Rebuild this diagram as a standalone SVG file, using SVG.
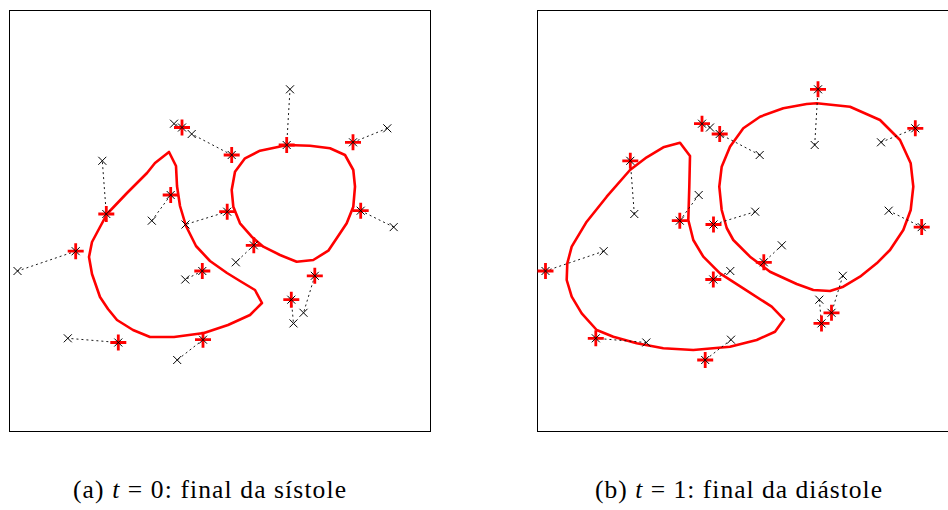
<svg xmlns="http://www.w3.org/2000/svg" xmlns:xlink="http://www.w3.org/1999/xlink" width="948" height="510" viewBox="0 0 948 510">
<style>
.frame{fill:none;stroke:#000;stroke-width:1}
.curve{fill:none;stroke:#f00;stroke-width:2.6;stroke-linejoin:round}
.link{stroke:#000;stroke-width:0.9;stroke-dasharray:2 3;fill:none}
.cap{font-family:"Liberation Serif","DejaVu Serif",serif;font-size:25.5px;fill:#000}
</style>
<defs>
<g id="mx"><path d="M-4,-4L4,4M-4,4L4,-4" stroke="#000" stroke-width="1" fill="none"/></g>
<g id="mp"><path d="M-8,0H8M0,-8V8" stroke="#f00" stroke-width="2.8" fill="none"/><use href="#mx" xlink:href="#mx"/></g>
</defs>
<rect width="948" height="510" fill="#fff"/>

<g id="panel-a">
<rect class="frame" x="9.5" y="10.5" width="421" height="421"/>
<g id="curves-a">
<polygon class="curve" points="169,152 176,166 177,186 180,206 186,226 196,246 210,261 227,273 240,281 255,290 262,303 250,315 228,325 204,333 174,337 150,337 133,330 117,320 108,309 100,297 92,274 89,257 92,242 100,227 107,214 127,193 147,173 155,163"/>
<polygon class="curve" points="287,145 310,145.7 330,148.3 345,155 353.3,170 355,186.7 353.3,206.7 346.7,223.3 336.7,238.3 328.3,250.7 313.3,260 296.7,261.7 280,255 263.3,246.7 251.7,236.7 240,223.3 233.3,206.7 231.7,190 235,171.7 245,158.3 260,150.7 276.7,147.3"/>
</g>
<g id="links-a">
<path class="link" d="M182,127.5L174,123.7M231.7,155L191.7,134M106.3,214L102.3,160.8M170.7,195L151.8,220.7M227.2,211.7L185.5,224.5M75.7,251.2L17.5,271M118.3,342.5L67.8,338.3M203,339.7L177.2,360M202.3,271L185.3,279.5M253.8,245.3L235.8,262.3M291.3,299.7L293.5,323.4M314.8,275.8L303.5,312.8M286.7,145L290,89.3M353,142.3L387.3,128.3M360.7,210.7L393.7,227.1"/>
</g>
<g id="targets-a">
<use href="#mx" xlink:href="#mx" x="174" y="123.7"/>
<use href="#mx" xlink:href="#mx" x="191.7" y="134"/>
<use href="#mx" xlink:href="#mx" x="102.3" y="160.8"/>
<use href="#mx" xlink:href="#mx" x="151.8" y="220.7"/>
<use href="#mx" xlink:href="#mx" x="185.5" y="224.5"/>
<use href="#mx" xlink:href="#mx" x="17.5" y="271"/>
<use href="#mx" xlink:href="#mx" x="67.8" y="338.3"/>
<use href="#mx" xlink:href="#mx" x="177.2" y="360"/>
<use href="#mx" xlink:href="#mx" x="185.3" y="279.5"/>
<use href="#mx" xlink:href="#mx" x="235.8" y="262.3"/>
<use href="#mx" xlink:href="#mx" x="293.5" y="323.4"/>
<use href="#mx" xlink:href="#mx" x="303.5" y="312.8"/>
<use href="#mx" xlink:href="#mx" x="290" y="89.3"/>
<use href="#mx" xlink:href="#mx" x="387.3" y="128.3"/>
<use href="#mx" xlink:href="#mx" x="393.7" y="227.1"/>
</g>
<g id="points-a">
<use href="#mp" xlink:href="#mp" x="182" y="127.5"/>
<use href="#mp" xlink:href="#mp" x="231.7" y="155"/>
<use href="#mp" xlink:href="#mp" x="106.3" y="214"/>
<use href="#mp" xlink:href="#mp" x="170.7" y="195"/>
<use href="#mp" xlink:href="#mp" x="227.2" y="211.7"/>
<use href="#mp" xlink:href="#mp" x="75.7" y="251.2"/>
<use href="#mp" xlink:href="#mp" x="118.3" y="342.5"/>
<use href="#mp" xlink:href="#mp" x="203" y="339.7"/>
<use href="#mp" xlink:href="#mp" x="202.3" y="271"/>
<use href="#mp" xlink:href="#mp" x="253.8" y="245.3"/>
<use href="#mp" xlink:href="#mp" x="291.3" y="299.7"/>
<use href="#mp" xlink:href="#mp" x="314.8" y="275.8"/>
<use href="#mp" xlink:href="#mp" x="286.7" y="145"/>
<use href="#mp" xlink:href="#mp" x="353" y="142.3"/>
<use href="#mp" xlink:href="#mp" x="360.7" y="210.7"/>
</g>
<text id="caption-a" class="cap" x="73" y="498" textLength="273" lengthAdjust="spacing">(a) <tspan font-style="italic">t</tspan> = 0:  final da sístole</text>
</g>

<g id="panel-b">
<rect class="frame" x="537.5" y="10.5" width="421" height="421"/>
<g id="curves-b">
<polygon class="curve" points="680,142.7 690,156 689.3,186.7 688.3,220 693.3,240 703.3,256.7 720,273.3 743.3,288.3 771.7,306.7 784,319.3 775,331.7 756.7,340 730,346.7 693.3,350 663.3,348.3 636.7,343.3 613.3,336.7 596.7,330 581.7,313.3 571.7,296.7 566.7,280 567.3,263.3 571.7,246.7 586.7,221.7 606.7,196.7 630,170 646.7,157.3 663.3,147.3"/>
<polygon class="curve" points="816.7,103.3 850,106.7 880,120 900,140 910.7,163.3 913.3,186.7 910.7,210 903.3,230 890,250 876.7,263.3 860,276.7 843.3,286.7 830,291 813.3,290 796.7,284 770,271.7 750,256.7 733.3,240 726.7,228 721.7,210 719.3,186.7 721.7,166.7 730,146.7 743.3,128.3 760,116.7 783.3,108.3 806.7,104"/>
</g>
<g id="links-b" transform="translate(528,0)">
<path class="link" d="M182,127.5L174,123.7M231.7,155L191.7,134M106.3,214L102.3,160.8M170.7,195L151.8,220.7M227.2,211.7L185.5,224.5M75.7,251.2L17.5,271M118.3,342.5L67.8,338.3M203,339.7L177.2,360M202.3,271L185.3,279.5M253.8,245.3L235.8,262.3M291.3,299.7L293.5,323.4M314.8,275.8L303.5,312.8M286.7,145L290,89.3M353,142.3L387.3,128.3M360.7,210.7L393.7,227.1"/>
</g>
<g id="targets-b" transform="translate(528,0)">
<use href="#mx" xlink:href="#mx" x="182" y="127.5"/>
<use href="#mx" xlink:href="#mx" x="231.7" y="155"/>
<use href="#mx" xlink:href="#mx" x="106.3" y="214"/>
<use href="#mx" xlink:href="#mx" x="170.7" y="195"/>
<use href="#mx" xlink:href="#mx" x="227.2" y="211.7"/>
<use href="#mx" xlink:href="#mx" x="75.7" y="251.2"/>
<use href="#mx" xlink:href="#mx" x="118.3" y="342.5"/>
<use href="#mx" xlink:href="#mx" x="203" y="339.7"/>
<use href="#mx" xlink:href="#mx" x="202.3" y="271"/>
<use href="#mx" xlink:href="#mx" x="253.8" y="245.3"/>
<use href="#mx" xlink:href="#mx" x="291.3" y="299.7"/>
<use href="#mx" xlink:href="#mx" x="314.8" y="275.8"/>
<use href="#mx" xlink:href="#mx" x="286.7" y="145"/>
<use href="#mx" xlink:href="#mx" x="353" y="142.3"/>
<use href="#mx" xlink:href="#mx" x="360.7" y="210.7"/>
</g>
<g id="points-b" transform="translate(528,0)">
<use href="#mp" xlink:href="#mp" x="174" y="123.7"/>
<use href="#mp" xlink:href="#mp" x="191.7" y="134"/>
<use href="#mp" xlink:href="#mp" x="102.3" y="160.8"/>
<use href="#mp" xlink:href="#mp" x="151.8" y="220.7"/>
<use href="#mp" xlink:href="#mp" x="185.5" y="224.5"/>
<use href="#mp" xlink:href="#mp" x="17.5" y="271"/>
<use href="#mp" xlink:href="#mp" x="67.8" y="338.3"/>
<use href="#mp" xlink:href="#mp" x="177.2" y="360"/>
<use href="#mp" xlink:href="#mp" x="185.3" y="279.5"/>
<use href="#mp" xlink:href="#mp" x="235.8" y="262.3"/>
<use href="#mp" xlink:href="#mp" x="293.5" y="323.4"/>
<use href="#mp" xlink:href="#mp" x="303.5" y="312.8"/>
<use href="#mp" xlink:href="#mp" x="290" y="89.3"/>
<use href="#mp" xlink:href="#mp" x="387.3" y="128.3"/>
<use href="#mp" xlink:href="#mp" x="393.7" y="227.1"/>
</g>
<text id="caption-b" class="cap" x="595" y="498" textLength="287" lengthAdjust="spacing">(b) <tspan font-style="italic">t</tspan> = 1:  final da diástole</text>
</g>
</svg>
